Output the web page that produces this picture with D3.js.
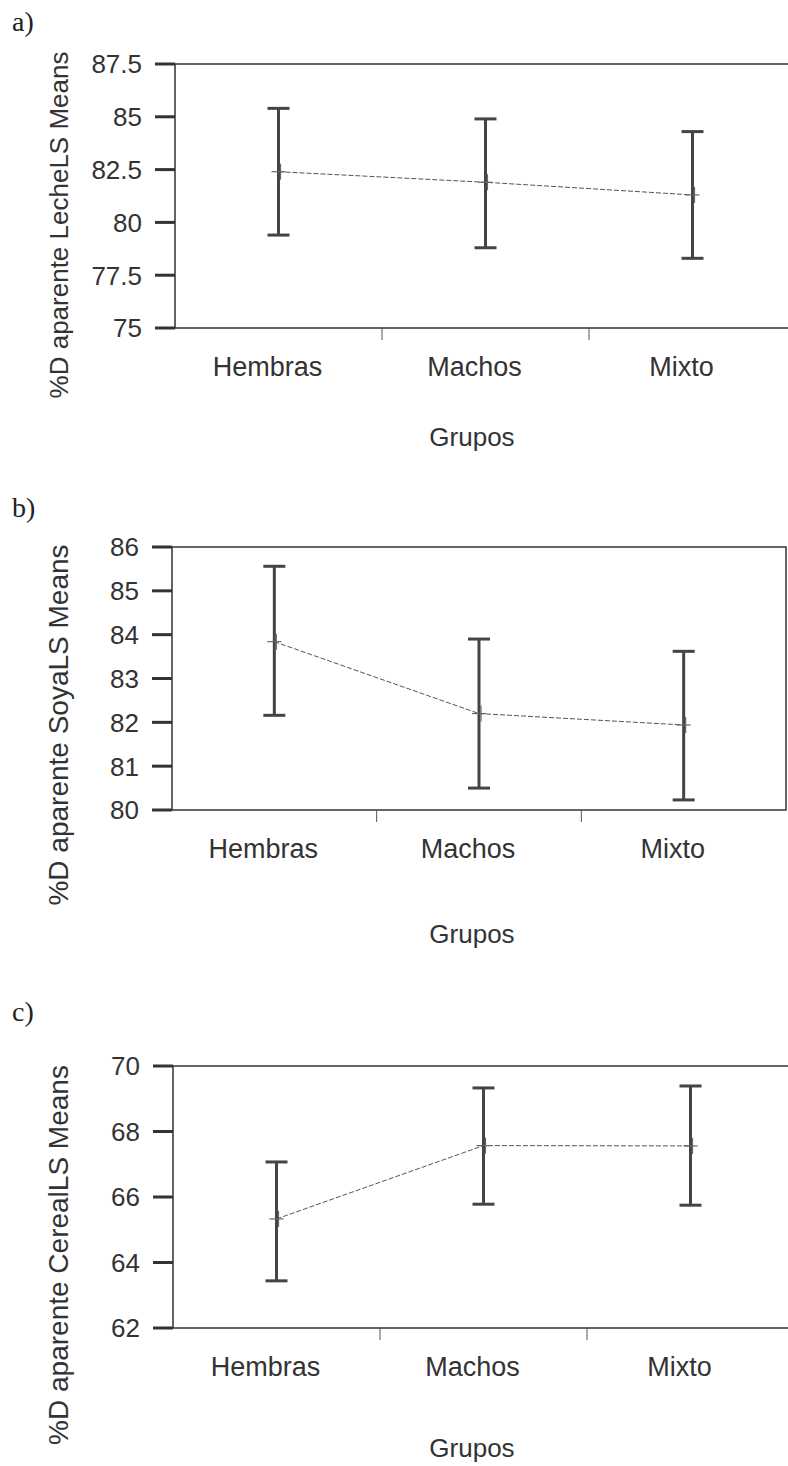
<!DOCTYPE html>
<meta charset="utf-8">
<style>
body { margin: 0; background: #fff; }
text { font-family: "Liberation Sans", Arial, sans-serif; fill: #333; }
.panel-tag { font-family: "Liberation Serif", "Times New Roman", serif; fill: #222; }
.frame { fill: none; stroke: #333; stroke-width: 1.5; }
.ytick { stroke: #333; stroke-width: 3; }
.xtick { stroke: #555; stroke-width: 1; }
.errbar { stroke: #444; stroke-width: 3; fill: none; }
.meanline { fill: none; stroke: #555; stroke-width: 1; stroke-dasharray: 5,2; }
.meanmark { stroke: #666; stroke-width: 1.2; }
</style>
<svg id="chart" width="788" height="1466"></svg>
<script src="https://d3js.org/d3.v7.min.js"></script>
<script>

var groups = ["Hembras", "Machos", "Mixto"];

// a) leche
var lecheMean = [82.4, 81.9, 81.3];
var lecheLow  = [79.4, 78.8, 78.3];
var lecheHigh = [85.4, 84.9, 84.3];
var lecheTicks = [75, 77.5, 80, 82.5, 85, 87.5];

// b) soya
var soyaMean = [83.84, 82.2, 81.94];
var soyaLow  = [82.16, 80.5, 80.23];
var soyaHigh = [85.56, 83.9, 83.62];
var soyaTicks = [80, 81, 82, 83, 84, 85, 86];

// c) cereal
var cerealMean = [65.33, 67.57, 67.56];
var cerealLow  = [63.44, 65.78, 65.75];
var cerealHigh = [67.07, 69.33, 69.39];
var cerealTicks = [62, 64, 66, 68, 70];

var svg = d3.select("#chart");

function drawPanel(opt) {
  var g = svg.append("g");

  var x = d3.scaleBand()
      .domain(groups)
      .range([opt.left, opt.right])
      .padding(0);

  var y = d3.scaleLinear()
      .domain(d3.extent(opt.ticks))
      .range([opt.bottom, opt.top]);

  var rows = groups.map(function(k, i) {
    return {group: k, mean: opt.mean[i], low: opt.low[i], high: opt.high[i]};
  });

  // panel tag a) b) c)
  g.append("text")
      .attr("class", "panel-tag")
      .attr("x", 12)
      .attr("y", opt.tagY)
      .style("font-size", "28px")
      .text(opt.tag);

  // frame
  g.append("rect")
      .attr("class", "frame")
      .attr("x", opt.left)
      .attr("y", opt.top)
      .attr("width", opt.frameRight - opt.left)
      .attr("height", opt.bottom - opt.top);

  // y ticks
  g.selectAll(".ytick")
    .data(opt.ticks)
    .enter().append("line")
      .attr("class", "ytick")
      .attr("x1", opt.left - 20)
      .attr("x2", opt.left)
      .attr("y1", function(d) { return y(d); })
      .attr("y2", function(d) { return y(d); });

  g.selectAll(".ylab")
    .data(opt.ticks)
    .enter().append("text")
      .attr("class", "ylab")
      .attr("x", opt.left - 33)
      .attr("y", function(d) { return y(d); })
      .attr("dy", "0.36em")
      .attr("text-anchor", "end")
      .style("font-size", "26px")
      .text(function(d) { return d; });

  // x ticks at band boundaries
  g.selectAll(".xtick")
    .data(groups.slice(1))
    .enter().append("line")
      .attr("class", "xtick")
      .attr("x1", function(d) { return x(d); })
      .attr("x2", function(d) { return x(d); })
      .attr("y1", opt.bottom)
      .attr("y2", opt.bottom + 12);

  g.selectAll(".xlab")
    .data(groups)
    .enter().append("text")
      .attr("class", "xlab")
      .attr("x", function(d) { return x(d) + x.bandwidth() / 2 - 11; })
      .attr("y", opt.bottom + 48)
      .attr("text-anchor", "middle")
      .style("font-size", "27px")
      .text(function(d) { return d; });

  g.append("text")
      .attr("x", 472)
      .attr("y", opt.grupoY)
      .attr("text-anchor", "middle")
      .style("font-size", "26px")
      .text("Grupos");

  g.append("text")
      .attr("transform", "translate(" + 68 + "," + opt.labelY + ") rotate(-90)")
      .attr("text-anchor", "middle")
      .style("font-size", opt.labelSize + "px")
      .text(opt.ylabel);

  var cx = function(d) { return x(d.group) + x.bandwidth() / 2; };

  // dashed line through the means
  g.append("path")
      .datum(rows)
      .attr("class", "meanline")
      .attr("d", d3.line()
          .x(cx)
          .y(function(d) { return y(d.mean); }));

  // error bars
  var eb = g.selectAll(".eb")
    .data(rows)
    .enter().append("g");

  eb.append("line")
      .attr("class", "errbar")
      .attr("x1", cx).attr("x2", cx)
      .attr("y1", function(d) { return y(d.low); })
      .attr("y2", function(d) { return y(d.high); });

  eb.append("line")
      .attr("class", "errbar")
      .attr("x1", function(d) { return cx(d) - 11; })
      .attr("x2", function(d) { return cx(d) + 11; })
      .attr("y1", function(d) { return y(d.high); })
      .attr("y2", function(d) { return y(d.high); });

  eb.append("line")
      .attr("class", "errbar")
      .attr("x1", function(d) { return cx(d) - 11; })
      .attr("x2", function(d) { return cx(d) + 11; })
      .attr("y1", function(d) { return y(d.low); })
      .attr("y2", function(d) { return y(d.low); });

  // small + at each mean
  eb.append("line")
      .attr("class", "meanmark")
      .attr("x1", function(d) { return cx(d) - 7; })
      .attr("x2", function(d) { return cx(d) + 7; })
      .attr("y1", function(d) { return y(d.mean); })
      .attr("y2", function(d) { return y(d.mean); });

  eb.append("line")
      .attr("class", "meanmark")
      .attr("x1", function(d) { return cx(d) + 2; })
      .attr("x2", function(d) { return cx(d) + 2; })
      .attr("y1", function(d) { return y(d.mean) - 8; })
      .attr("y2", function(d) { return y(d.mean) + 8; });
}

drawPanel({
  tag: "a)", tagY: 31,
  left: 175, right: 796, frameRight: 796, top: 64, bottom: 328,
  ticks: lecheTicks, mean: lecheMean, low: lecheLow, high: lecheHigh,
  ylabel: "%D aparente LecheLS Means", labelY: 225, labelSize: 26,
  grupoY: 446
});

drawPanel({
  tag: "b)", tagY: 517,
  left: 172, right: 786, frameRight: 786, top: 547, bottom: 810,
  ticks: soyaTicks, mean: soyaMean, low: soyaLow, high: soyaHigh,
  ylabel: "%D aparente SoyaLS Means", labelY: 725, labelSize: 28,
  grupoY: 943
});

drawPanel({
  tag: "c)", tagY: 1021,
  left: 173, right: 794, frameRight: 796, top: 1066, bottom: 1328,
  ticks: cerealTicks, mean: cerealMean, low: cerealLow, high: cerealHigh,
  ylabel: "%D aparente CerealLS Means", labelY: 1255, labelSize: 28,
  grupoY: 1457
});

</script>
